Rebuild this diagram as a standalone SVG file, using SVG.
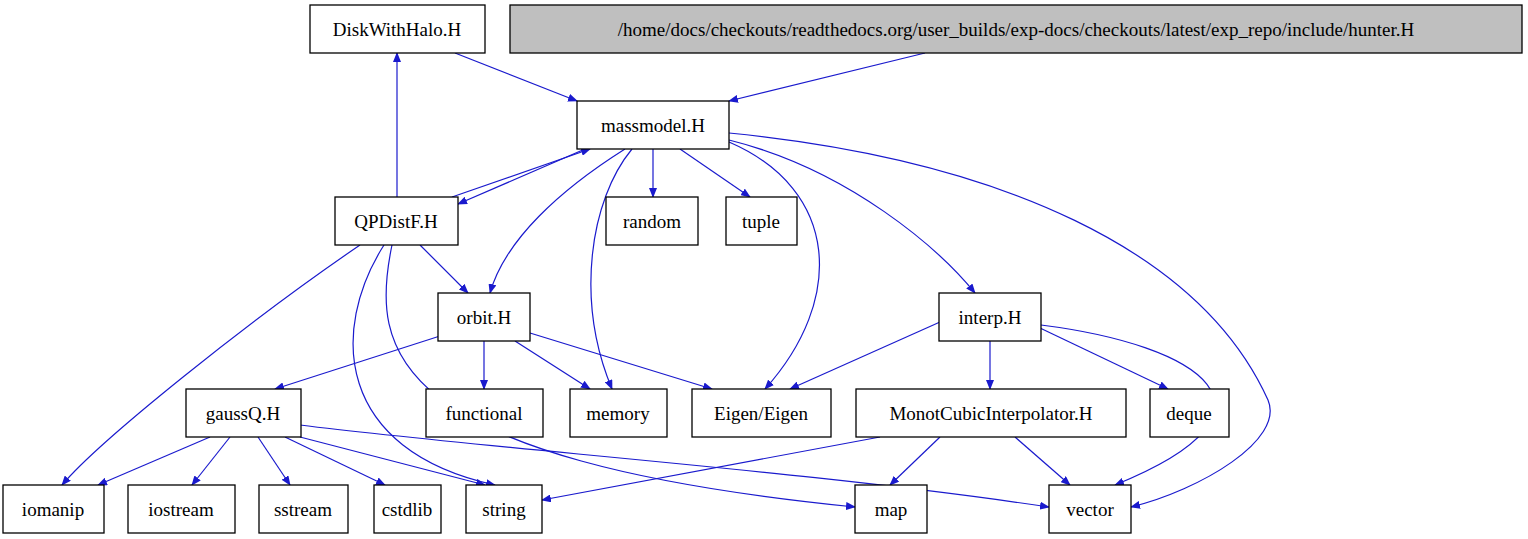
<svg xmlns="http://www.w3.org/2000/svg" width="1528" height="539" viewBox="0 0 1528 539">
<style>
.n rect{fill:#fff;stroke:#000;stroke-width:1.3}
.n text{font-family:"Liberation Serif",serif;font-size:19px;text-anchor:middle;fill:#000}
#e path{fill:none;stroke:#1a1acd;stroke-width:1.2;marker-end:url(#a)}
</style>
<defs><marker id="a" markerWidth="10" markerHeight="8" refX="9" refY="4" orient="auto" markerUnits="userSpaceOnUse"><path d="M0,0L10,4L0,8z" fill="#1a1acd"/></marker></defs>
<rect width="1528" height="539" fill="#fff"/>
<g id="e">
<path d="M455,53L577,101"/>
<path d="M925,53L729,101"/>
<path d="M397,197L397,53"/>
<path d="M585,149L458,204"/>
<path d="M452,197L590,149"/>
<path d="M653,149L653,197"/>
<path d="M680,149L750,197"/>
<path d="M625,149C560,190 505,240 490,293"/>
<path d="M632,149C590,200 575,300 612,389"/>
<path d="M729,142C840,190 845,300 765,389"/>
<path d="M729,140C850,170 940,250 975,293"/>
<path d="M729,133C1000,160 1200,250 1268,400C1285,440 1200,490 1131,507"/>
<path d="M420,245L468,293"/>
<path d="M360,245C250,320 100,440 62,485"/>
<path d="M384,245C330,330 335,450 495,485"/>
<path d="M392,245C370,350 385,460 855,507"/>
<path d="M440,336L275,389"/>
<path d="M484,341L484,389"/>
<path d="M515,341L590,389"/>
<path d="M530,333L712,389"/>
<path d="M940,322L790,389"/>
<path d="M990,341L990,389"/>
<path d="M1040,328L1168,389"/>
<path d="M1041,325C1200,345 1300,410 1115,485"/>
<path d="M880,437L542,500"/>
<path d="M940,437L890,485"/>
<path d="M1015,437L1070,485"/>
<path d="M210,437L98,485"/>
<path d="M230,437L192,485"/>
<path d="M258,437L290,485"/>
<path d="M285,437L385,485"/>
<path d="M300,437L485,485"/>
<path d="M300,425C500,450 800,470 1049,507"/>
</g>
<g id="n1" class="n"><rect x="310" y="5" width="175" height="48"/><text x="397" y="36">DiskWithHalo.H</text></g>
<g id="n2" class="n"><rect x="510" y="5" width="1012" height="48" style="fill:#bfbfbf"/><text x="1016" y="36">/home/docs/checkouts/readthedocs.org/user_builds/exp-docs/checkouts/latest/exp_repo/include/hunter.H</text></g>
<g id="n3" class="n"><rect x="577" y="101" width="152" height="48"/><text x="653" y="132">massmodel.H</text></g>
<g id="n4" class="n"><rect x="335" y="197" width="123" height="48"/><text x="396" y="228">QPDistF.H</text></g>
<g id="n5" class="n"><rect x="606" y="197" width="92" height="48"/><text x="652" y="228">random</text></g>
<g id="n6" class="n"><rect x="726" y="197" width="71" height="48"/><text x="761" y="228">tuple</text></g>
<g id="n7" class="n"><rect x="438" y="293" width="92" height="48"/><text x="484" y="324">orbit.H</text></g>
<g id="n8" class="n"><rect x="939" y="293" width="102" height="48"/><text x="990" y="324">interp.H</text></g>
<g id="n9" class="n"><rect x="186" y="389" width="115" height="48"/><text x="243" y="420">gaussQ.H</text></g>
<g id="n10" class="n"><rect x="426" y="389" width="117" height="48"/><text x="484" y="420">functional</text></g>
<g id="n11" class="n"><rect x="570" y="389" width="97" height="48"/><text x="618" y="420">memory</text></g>
<g id="n12" class="n"><rect x="692" y="389" width="139" height="48"/><text x="761" y="420">Eigen/Eigen</text></g>
<g id="n13" class="n"><rect x="856" y="389" width="270" height="48"/><text x="991" y="420">MonotCubicInterpolator.H</text></g>
<g id="n14" class="n"><rect x="1150" y="389" width="79" height="48"/><text x="1189" y="420">deque</text></g>
<g id="n15" class="n"><rect x="3" y="485" width="101" height="48"/><text x="53" y="516">iomanip</text></g>
<g id="n16" class="n"><rect x="128" y="485" width="107" height="48"/><text x="181" y="516">iostream</text></g>
<g id="n17" class="n"><rect x="259" y="485" width="89" height="48"/><text x="303" y="516">sstream</text></g>
<g id="n18" class="n"><rect x="374" y="485" width="67" height="48"/><text x="407" y="516">cstdlib</text></g>
<g id="n19" class="n"><rect x="466" y="485" width="76" height="48"/><text x="504" y="516">string</text></g>
<g id="n20" class="n"><rect x="855" y="485" width="72" height="48"/><text x="891" y="516">map</text></g>
<g id="n21" class="n"><rect x="1049" y="485" width="82" height="48"/><text x="1090" y="516">vector</text></g>
</svg>
